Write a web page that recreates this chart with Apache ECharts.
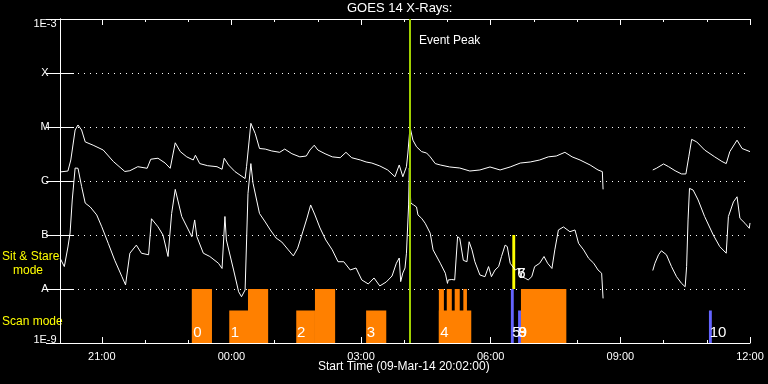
<!DOCTYPE html>
<html>
<head>
<meta charset="utf-8">
<script src="https://cdn.jsdelivr.net/npm/echarts@6/dist/echarts.min.js"></script>
<style>
html,body{margin:0;padding:0;background:#000;}
#chart{width:768px;height:384px;}
</style>
</head>
<body>
<div id="chart"></div>
<script>
// x values: minutes after start time 09-Mar-14 20:02:00
const hourTicks = [58,118,178,238,298,358,418,478,538,598,658,718,778,838,898,958];
const majorTicks = [58,238,418,598,778,958];
const timeLabels = ['21:00','00:00','03:00','06:00','09:00','12:00'];
const fluxLabels = ['1E-9','A','B','C','M','X','1E-3'];
const eventPeakMinute = 485;

// GOES long channel (1-8 A), W/m^2
const longChannel = [
[0,1.47e-6],[11,1.53e-6],[15,2.45e-6],[21,8.8e-6],[25,1.09e-5],[30,8.8e-6],[35,5.3e-6],[46,4.6e-6],[60,3.75e-6],[74,2.3e-6],
[90,1.5e-6],[97,1.55e-6],[108,1.84e-6],[121,1.72e-6],[126,2.53e-6],[136,2.64e-6],[146,2.15e-6],[153,1.72e-6],[160,5.1e-6],[167,3.5e-6],
[176,2.8e-6],[185,2.45e-6],[188,3.0e-6],[194,2.1e-6],[205,1.92e-6],[218,1.84e-6],[225,1.65e-6],[228,2.64e-6],[234,1.98e-6],[243,1.49e-6],
[257,1.11e-6],[259,1.84e-6],[265,1.17e-5],[271,7.6e-6],[277,4.0e-6],[285,3.9e-6],[294,3.6e-6],[305,3.4e-6],[312,3.9e-6],[322,3.2e-6],
[333,2.8e-6],[342,2.9e-6],[347,3.75e-6],[353,4.6e-6],[358,3.75e-6],[368,3.2e-6],[378,2.8e-6],[389,2.7e-6],[397,3.4e-6],[405,2.7e-6],
[417,2.45e-6],[425,2.25e-6],[433,2.15e-6],[444,1.9e-6],[455,1.6e-6],[465,1.2e-6],[471,1.98e-6],[476,1.2e-6],[481,1.84e-6],[483,3.3e-6],
[486,1.0e-5],[490,5.7e-6],[495,4.3e-6],[502,3.5e-6],[509,3.3e-6],[514,2.8e-6],[521,2.1e-6],[528,1.98e-6],[541,1.82e-6],[555,1.74e-6],
[569,1.53e-6],[583,1.6e-6],[597,1.82e-6],[611,1.6e-6],[625,1.82e-6],[639,2.15e-6],[653,2.25e-6],[666,2.45e-6],[678,2.8e-6],[689,2.9e-6],
[701,3.4e-6],[711,2.8e-6],[722,2.45e-6],[736,1.98e-6],[747,1.6e-6],[753,1.49e-6],[754,7.0e-7],[790,null],
[823,1.6e-6],[828,1.72e-6],[838,2.07e-6],[845,1.84e-6],[854,1.55e-6],[863,1.35e-6],[869,1.35e-6],[873,2.8e-6],[877,5.9e-6],[884,5.3e-6],
[895,3.75e-6],[909,2.8e-6],[919,2.3e-6],[925,2.1e-6],[930,3.5e-6],[940,5.7e-6],[947,4.0e-6],[958,3.5e-6]
];

// GOES short channel (0.5-4 A), W/m^2
const shortChannel = [
[0,3.75e-8],[6,2.6e-8],[11,6.0e-8],[14,1.09e-7],[17,4.45e-7],[21,1.74e-6],[25,1.72e-6],[30,7.9e-7],[35,3.9e-7],[42,3.3e-7],
[51,2.35e-7],[58,1.42e-7],[67,7.0e-8],[76,3.4e-8],[86,1.69e-8],[91,1.19e-8],[97,4.6e-8],[106,6.5e-8],[113,4.6e-8],[123,4.3e-8],
[127,2.0e-7],[136,1.42e-7],[143,1.0e-7],[150,4.0e-8],[155,2.5e-7],[160,7.0e-7],[169,2.2e-7],[183,9.3e-8],[187,1.9e-7],[190,9.3e-8],
[199,4.6e-8],[208,4.0e-8],[220,3.0e-8],[225,2.4e-8],[229,2.2e-7],[231,8.1e-8],[241,2.25e-8],[248,8.9e-9],[252,7.2e-9],[257,9.6e-9],
[261,5.9e-7],[265,2.1e-6],[268,9.1e-7],[277,2.5e-7],[285,1.74e-7],[292,1.24e-7],[300,8.8e-8],[308,7.4e-8],[317,5.3e-8],[324,4.1e-8],
[330,5.7e-8],[337,1.14e-7],[343,2.07e-7],[348,3.6e-7],[354,2.35e-7],[361,1.35e-7],[369,8.1e-8],[378,5.3e-8],[386,3.2e-8],[394,3.2e-8],
[403,2.25e-8],[411,2.45e-8],[419,1.47e-8],[428,1.24e-8],[436,1.6e-8],[444,1.14e-8],[453,1.35e-8],[461,1.74e-8],[467,3.0e-8],[471,3.75e-8],
[473,1.37e-8],[476,1.98e-8],[479,2.45e-8],[481,4.6e-8],[484,3.6e-7],[485,1.74e-6],[487,3.9e-7],[491,3.6e-7],[495,3.3e-7],[497,2.35e-7],
[502,2.04e-7],[507,1.65e-7],[509,1.68e-7],[514,1.08e-7],[518,5.3e-8],[528,3.0e-8],[535,1.96e-8],[538,1.27e-8],[539,1.47e-8],[544,1.5e-8],
[548,1.47e-8],[552,9.3e-8],[555,8.7e-8],[560,3.4e-8],[565,3.2e-8],[568,7.5e-8],[572,5.3e-8],[576,3.2e-8],[583,1.82e-8],[590,1.69e-8],
[595,2.6e-8],[599,1.69e-8],[604,2.25e-8],[609,2.6e-8],[613,4.0e-8],[618,6.5e-8],[621,6.1e-8],[625,3.0e-8],[632,2.25e-8],[636,2.4e-8],
[641,1.69e-8],[646,1.58e-8],[650,1.47e-8],[655,1.69e-8],[659,2.6e-8],[666,3.0e-8],[672,4.0e-8],[677,3.0e-8],[683,2.4e-8],[687,5.3e-8],
[692,1.24e-7],[699,1.41e-7],[708,1.15e-7],[715,1.24e-7],[720,7.0e-8],[727,5.3e-8],[734,3.7e-8],[741,3.0e-8],[747,2.25e-8],[752,1.96e-8],
[754,6.7e-9],[790,null],
[823,2.2e-8],[826,3.0e-8],[831,4.3e-8],[835,5.1e-8],[842,4.3e-8],[849,2.6e-8],[856,1.69e-8],[863,1.27e-8],[868,1.1e-8],[870,2.6e-8],
[872,1.9e-7],[874,7.3e-7],[879,6.8e-7],[886,4.45e-7],[895,2.2e-7],[907,1.0e-7],[916,6.1e-8],[925,4.6e-8],[928,2.2e-7],[935,4.1e-7],
[940,5.1e-7],[944,2.04e-7],[951,1.65e-7],[957,1.33e-7],[958,1.67e-7]
];

// observation bars: [startMin, endMin, top, bottom]
const scanBars = [
[183,211,1e-8,1e-9],[235,261,4e-9,1e-9],[261,289,1e-8,1e-9],[328,354,4e-9,1e-9],[354,382,1e-8,1e-9],
[425,453,4e-9,1e-9],[526,571,4e-9,1e-9],[526,533,1e-8,1e-9],[537,544,1e-8,1e-9],[548,555,1e-8,1e-9],
[560,565,1e-8,1e-9],[640,703,1e-8,1e-9]
];
const blueBars = [[626,630,1e-8,1e-9],[636,640,4e-9,1e-9],[901,905,4e-9,1e-9]];
const stareBars = [[628,632,1e-7,1e-8]];
// observation numbers: [minute, flux position, text]
const obsLabels = [
[185,1.56e-9,'0'],[237,1.56e-9,'1'],[329,1.56e-9,'2'],[426,1.56e-9,'3'],[528,1.56e-9,'4'],
[628,1.56e-9,'5'],[635,1.93e-8,'6'],[635,1.93e-8,'7'],[636,1.56e-9,'8'],[637,1.56e-9,'9'],[902,1.56e-9,'10']
];

const chart = echarts.init(document.getElementById('chart'));
const FONT = 'Liberation Sans';

function barSeries(data, color) {
  return {
    type: 'custom', data: data, z: 1, silent: true,
    encode: {x: [0, 1], y: [2, 3]},
    renderItem: function (params, api) {
      const p0 = api.coord([api.value(0), api.value(2)]);
      const p1 = api.coord([api.value(1), api.value(3)]);
      return {type: 'rect', shape: {x: p0[0], y: p0[1], width: p1[0] - p0[0], height: p1[1] - p0[1]}, style: {fill: color}};
    }
  };
}

const xBase = {type: 'value', min: 0, max: 958, splitLine: {show: false}, axisPointer: {show: false}};
const axisWhite = {show: true, lineStyle: {color: '#fff', width: 1}};

chart.setOption({
  backgroundColor: '#000',
  animation: false,
  title: {text: 'GOES 14 X-Rays:', left: 347, top: 2, padding: 0,
    textStyle: {color: '#fff', fontSize: 13, fontWeight: 'normal', fontFamily: FONT}},
  grid: {left: 60, top: 19, width: 690, height: 324, show: false},
  xAxis: [
    Object.assign({}, xBase, {position: 'bottom', axisLine: axisWhite,
      axisTick: {show: true, inside: true, length: 3, customValues: hourTicks, lineStyle: {color: '#fff'}},
      axisLabel: {show: true, customValues: majorTicks, color: '#fff', fontSize: 11, fontFamily: FONT, margin: 8,
        formatter: function (v) { const i = majorTicks.indexOf(Math.round(v)); return i >= 0 ? timeLabels[i] : ''; }}}),
    Object.assign({}, xBase, {position: 'bottom', axisLine: {show: false},
      axisTick: {show: true, inside: true, length: 6, customValues: majorTicks, lineStyle: {color: '#fff'}},
      axisLabel: {show: false}}),
    Object.assign({}, xBase, {position: 'top', axisLine: axisWhite,
      axisTick: {show: true, inside: true, length: 3, customValues: hourTicks, lineStyle: {color: '#fff'}},
      axisLabel: {show: false}}),
    Object.assign({}, xBase, {position: 'top', axisLine: {show: false},
      axisTick: {show: true, inside: true, length: 6, customValues: majorTicks, lineStyle: {color: '#fff'}},
      axisLabel: {show: false}})
  ],
  yAxis: [
    {type: 'log', logBase: 10, min: 1e-9, max: 1e-3, splitNumber: 6, position: 'left',
      axisLine: axisWhite,
      axisTick: {show: true, inside: true, length: 14, lineStyle: {color: '#fff'}},
      splitLine: {show: true, lineStyle: {color: '#fff', width: 1, type: [1, 5]}},
      axisLabel: {color: '#fff', fontSize: 11, fontFamily: FONT, align: 'center', margin: 15,
        formatter: function (v) {
          const k = Math.round(Math.log10(v)) + 9;
          if (k === 0) return '{lo|' + fluxLabels[k] + '}';
          if (k === 6) return '{hi|' + fluxLabels[k] + '}';
          return fluxLabels[k];
        },
        rich: {
          lo: {color: '#fff', fontSize: 11, fontFamily: FONT, padding: [0, 0, 6, 0]},
          hi: {color: '#fff', fontSize: 11, fontFamily: FONT, padding: [9, 0, 0, 0]}
        }}},
    {type: 'log', logBase: 10, min: 1e-9, max: 1e-3, splitNumber: 6, position: 'right',
      axisLine: axisWhite,
      axisTick: {show: true, inside: true, length: 14, lineStyle: {color: '#fff'}},
      splitLine: {show: false}, axisLabel: {show: false}}
  ],
  series: [
    barSeries(scanBars, '#ff8000'),
    barSeries(blueBars, '#6464ff'),
    barSeries(stareBars, '#ffff00'),
    {type: 'line', name: 'long', data: longChannel, showSymbol: false, symbol: 'none', z: 3,
      lineStyle: {color: '#fff', width: 1}, connectNulls: false, silent: true},
    {type: 'line', name: 'short', data: shortChannel, showSymbol: false, symbol: 'none', z: 3,
      lineStyle: {color: '#fff', width: 1}, connectNulls: false, silent: true,
      markLine: {silent: true, symbol: ['none', 'none'], z: 5, label: {show: false},
        lineStyle: {color: '#a0d000', width: 2, type: 'solid'}, data: [{xAxis: eventPeakMinute}]}},
    {type: 'custom', data: obsLabels.map(function (d) { return [d[0], d[1]]; }), z: 6, silent: true,
      renderItem: function (params, api) {
        const p = api.coord([api.value(0), api.value(1)]);
        return {type: 'text', x: p[0], y: p[1],
          style: {text: obsLabels[params.dataIndex][2], fill: '#fff', font: '15px "Liberation Sans"', align: 'left', verticalAlign: 'middle'}};
      }}
  ],
  graphic: [
    {type: 'text', left: 419, top: 35, style: {text: 'Event Peak', fill: '#fff', font: '12px "Liberation Sans"'}},
    {type: 'text', left: 2, top: 251, style: {text: 'Sit & Stare', fill: '#ffff00', font: '12px "Liberation Sans"'}},
    {type: 'text', left: 13, top: 265, style: {text: 'mode', fill: '#ffff00', font: '12px "Liberation Sans"'}},
    {type: 'text', left: 2, top: 316, style: {text: 'Scan mode', fill: '#ffff00', font: '12px "Liberation Sans"'}},
    {type: 'text', left: 318, top: 361, style: {text: 'Start Time (09-Mar-14 20:02:00)', fill: '#fff', font: '12px "Liberation Sans"'}}
  ]
});
</script>
</body>
</html>
